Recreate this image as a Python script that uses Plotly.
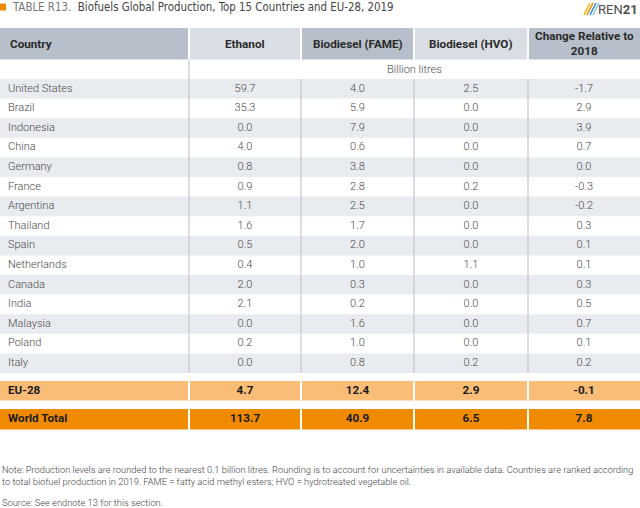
import plotly.graph_objects as go

# table data
countries = ["United States", "Brazil", "Indonesia", "China", "Germany", "France",
             "Argentina", "Thailand", "Spain", "Netherlands", "Canada", "India",
             "Malaysia", "Poland", "Italy"]
ethanol = [59.7, 35.3, 0.0, 4.0, 0.8, 0.9, 1.1, 1.6, 0.5, 0.4, 2.0, 2.1, 0.0, 0.2, 0.0]
fame = [4.0, 5.9, 7.9, 0.6, 3.8, 2.8, 2.5, 1.7, 2.0, 1.0, 0.3, 0.2, 1.6, 1.0, 0.8]
hvo = [2.5, 0.0, 0.0, 0.0, 0.0, 0.2, 0.0, 0.0, 0.0, 1.1, 0.0, 0.0, 0.0, 0.0, 0.2]
change = [-1.7, 2.9, 3.9, 0.7, 0.0, -0.3, -0.2, 0.3, 0.1, 0.1, 0.3, 0.5, 0.7, 0.1, 0.2]

headers = ["Country", "Ethanol", "Biodiesel (FAME)", "Biodiesel (HVO)", "Change Relative to<br>2018"]
unit_label = "Billion litres"
eu28 = ["EU-28", 4.7, 12.4, 2.9, -0.1]
world = ["World Total", 113.7, 40.9, 6.5, 7.8]

title_tag = "TABLE R13."
title = "Biofuels Global Production, Top 15 Countries and EU-28, 2019"
note = ("Note: Production levels are rounded to the nearest 0.1 billion litres. Rounding is to account for "
        "uncertainties in available data. Countries are ranked according<br>to total biofuel production in 2019. "
        "FAME = fatty acid methyl esters; HVO = hydrotreated vegetable oil.")
source = "Source: See endnote 13 for this section."

# layout (pixel-like units, y down)
W, H = 640, 508
edges = [0, 189, 301, 414, 528, 640]
centers = [8] + [(edges[i] + edges[i + 1]) / 2 for i in range(1, 5)]
head_top, head_bot = 28, 59.5
unit_bot = 79
row_h = 19.6
eu_top, eu_bot = 381, 400.5
wt_top, wt_bot = 409, 429.5

ORANGE = "#f08a00"
HEAD_DARK = "#b7c0ca"
HEAD_LIGHT = "#d9dee4"
SHADE = "#e8ebef"
SEP = "#c6cdd6"
TXT = "#4a4a4a"
BODY_FONT = "Roboto"

fmt = lambda v: f"{v:.1f}"
row_y = [unit_bot + row_h * (i + 0.5) for i in range(len(countries))]
rows_bot = unit_bot + row_h * len(countries)

shapes = []

def cell_rects(top, bot, colors):
    for i in range(5):
        x0 = edges[i] + (1 if i > 0 else 0)
        x1 = edges[i + 1] - (1 if i < 4 else 0)
        shapes.append(dict(type="rect", xref="x", yref="y", x0=x0, x1=x1, y0=top, y1=bot,
                           fillcolor=colors[i], line=dict(width=0), layer="below"))

cell_rects(head_top, head_bot, [HEAD_DARK, HEAD_LIGHT, HEAD_DARK, HEAD_LIGHT, HEAD_DARK])
for i in range(len(countries)):
    if i % 2 == 0:
        shapes.append(dict(type="rect", xref="x", yref="y", x0=0, x1=W,
                           y0=unit_bot + row_h * i, y1=unit_bot + row_h * (i + 1),
                           fillcolor=SHADE, line=dict(width=0), layer="below"))
shapes.append(dict(type="line", xref="x", yref="y", x0=edges[1], x1=edges[1], y0=head_bot, y1=rows_bot,
                   line=dict(color=SEP, width=1.3), layer="below"))
for e in edges[2:5]:
    shapes.append(dict(type="line", xref="x", yref="y", x0=e, x1=e, y0=unit_bot, y1=rows_bot,
                       line=dict(color=SEP, width=1.3), layer="below"))
cell_rects(eu_top, eu_bot, ["#f9bd78"] * 5)
cell_rects(wt_top, wt_bot, [ORANGE] * 5)
# orange marker before title
shapes.append(dict(type="rect", xref="x", yref="y", x0=0, x1=6, y0=3.5, y1=10.5,
                   fillcolor=ORANGE, line=dict(width=0)))
# logo strokes
for k, c in enumerate(["#f5b400", "#f08a00", "#2f8fd0", "#8cc8ea"]):
    shapes.append(dict(type="line", xref="x", yref="y", x0=584 + k * 3, x1=590 + k * 3, y0=15, y1=3,
                       line=dict(color=c, width=1.6)))

fig = go.Figure()

# body rows
columns = [countries, [fmt(v) for v in ethanol], [fmt(v) for v in fame],
           [fmt(v) for v in hvo], [fmt(v) for v in change]]
for i, col in enumerate(columns):
    fig.add_trace(go.Scatter(
        x=[centers[i]] * len(col), y=row_y, mode="text", text=col,
        textposition="middle right" if i == 0 else "middle center",
        textfont=dict(family=BODY_FONT, size=11, color=TXT, weight=300),
        hoverinfo="skip", showlegend=False))

# total rows
for vals, top, bot in [(eu28, eu_top, eu_bot), (world, wt_top, wt_bot)]:
    texts = [vals[0]] + [fmt(v) for v in vals[1:]]
    for i, t in enumerate(texts):
        fig.add_trace(go.Scatter(
            x=[centers[i]], y=[(top + bot) / 2], mode="text", text=[t],
            textposition="middle right" if i == 0 else "middle center",
            textfont=dict(family=BODY_FONT, size=11.7, color="#1a1a1a", weight=700),
            hoverinfo="skip", showlegend=False))

annotations = []
for i, h in enumerate(headers):
    annotations.append(dict(x=centers[i], y=(head_top + head_bot) / 2, xref="x", yref="y",
                            text=f"<b>{h}</b>", showarrow=False,
                            xanchor="left" if i == 0 else "center", yanchor="middle",
                            font=dict(family=BODY_FONT, size=11.7, color="#2a2a2a")))
annotations.append(dict(x=(edges[1] + W) / 2, y=(head_bot + unit_bot) / 2, xref="x", yref="y",
                        text=unit_label, showarrow=False, xanchor="center", yanchor="middle",
                        font=dict(family=BODY_FONT, size=11, color=TXT, weight=300)))
annotations.append(dict(x=10, y=7, xref="x", yref="y", showarrow=False, xanchor="left", yanchor="middle",
                        text=f"<span style='color:#777'>{title_tag}</span>&nbsp;&nbsp;{title}",
                        font=dict(family="DejaVu Sans Condensed", size=11.4, color="#444")))
annotations.append(dict(x=640, y=9, xref="x", yref="y", showarrow=False, xanchor="right", yanchor="middle",
                        text="REN<b>21</b>", font=dict(family=BODY_FONT, size=13, color="#4d4d4d")))
annotations.append(dict(x=0, y=475, xref="x", yref="y", showarrow=False, xanchor="left", yanchor="middle",
                        align="left", text=note,
                        font=dict(family=BODY_FONT, size=9.3, color="#444", weight=300)))
annotations.append(dict(x=0, y=502, xref="x", yref="y", showarrow=False, xanchor="left", yanchor="middle",
                        align="left", text=source,
                        font=dict(family=BODY_FONT, size=9.3, color="#444", weight=300)))

fig.update_layout(
    width=W, height=H, margin=dict(l=0, r=0, t=0, b=0),
    paper_bgcolor="white", plot_bgcolor="white",
    xaxis=dict(range=[0, W], visible=False, fixedrange=True),
    yaxis=dict(range=[H, 0], visible=False, fixedrange=True),
    shapes=shapes, annotations=annotations,
)

fig.write_html("out.html", config={"displayModeBar": False},
               post_script="document.body.style.margin='0';")
